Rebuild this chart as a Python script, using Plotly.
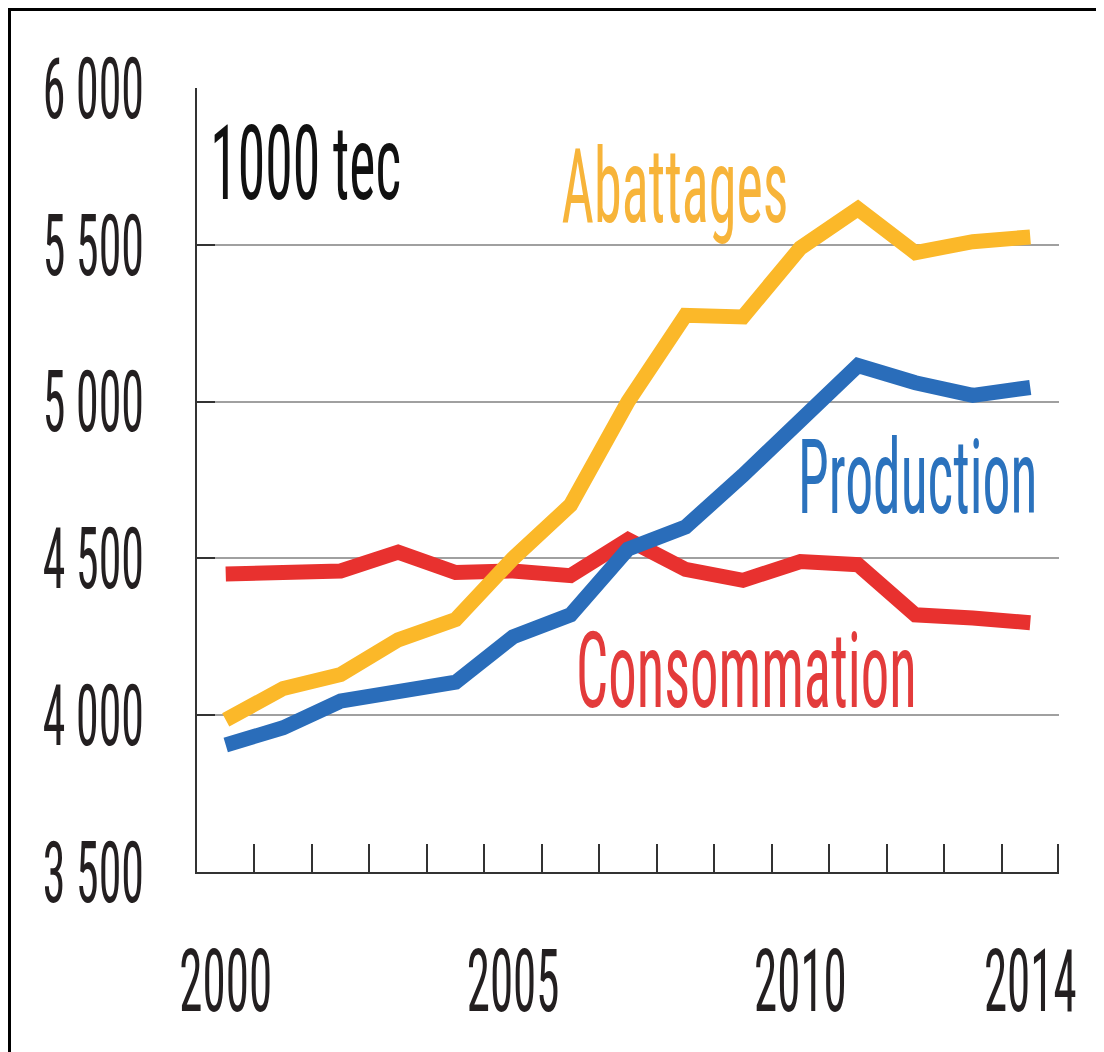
import plotly.graph_objects as go

years = list(range(2000, 2015))
abattages = [3985, 4085, 4130, 4240, 4305, 4500, 4670, 5000, 5275, 5270, 5490, 5615, 5475, 5510, 5525]
production = [3905, 3960, 4045, 4070, 4105, 4250, 4320, 4530, 4600, 4765, 4935, 5115, 5060, 5020, 5045]
consommation = [4450, 4450, 4460, 4520, 4455, 4460, 4445, 4560, 4465, 4430, 4490, 4480, 4320, 4310, 4295]

ytick_vals = [3500, 4000, 4500, 5000, 5500, 6000]
ytick_text = ["3 500", "4 000", "4 500", "5 000", "5 500", "6 000"]
xlabel_vals = [2000, 2005, 2010, 2014]
xlabel_text = ["2000", "2005", "2010", "2014"]
# tick marks sit on the boundaries between years (last one nudged inside the range:
# plotly drops inside ticks that lie within 1 px of the axis end)
xtick_bounds = [y + 0.5 for y in range(1999, 2014)] + [2014.48]

FONT = ("Noto Sans ExtraCondensed, Noto Sans Extra Condensed, Roboto Condensed, "
        "Liberation Sans Narrow, Open Sans Condensed, DejaVu Sans Condensed, sans-serif")
SX = 0.54  # horizontal compression of the lettering (the reference type is very condensed)

OFF = 8  # default page body margin
W, H = 1104 - OFF, 1052 - OFF
PLOT_L, PLOT_R, PLOT_T, PLOT_B = 197, 1059, 88, 872  # page pixel positions of plot area
L, T = PLOT_L - OFF, PLOT_T - OFF
R, B = W - (PLOT_R - OFF), H - (PLOT_B - OFF)
PW, PH = PLOT_R - PLOT_L, PLOT_B - PLOT_T


def px(x):
    return (x - PLOT_L) / PW


def py(y):
    return (PLOT_B - y) / PH


fig = go.Figure()
fig.add_trace(go.Scatter(x=years, y=consommation, mode="lines", name="Consommation",
                         line=dict(color="#E8312F", width=15)))
fig.add_trace(go.Scatter(x=years, y=production, mode="lines", name="Production",
                         line=dict(color="#2A6DBA", width=15)))
fig.add_trace(go.Scatter(x=years, y=abattages, mode="lines", name="Abattages",
                         line=dict(color="#FBB829", width=15)))
fig.add_trace(go.Scatter(x=[2000], y=[3500], mode="markers", marker=dict(opacity=0),
                         showlegend=False, hoverinfo="skip", xaxis="x2", yaxis="y"))

fig.update_layout(
    template="none",
    width=W, height=H,
    margin=dict(l=L, r=R, t=T, b=B, pad=0, autoexpand=False),
    paper_bgcolor="white", plot_bgcolor="white",
    showlegend=False,
    font=dict(family=FONT, color="#231F20"),
    xaxis=dict(range=[1999.5, 2014.5], tickmode="array", tickvals=xtick_bounds,
               showticklabels=False, ticks="inside", ticklen=28, tickwidth=2,
               tickcolor="#333333", showline=True, linecolor="#333333", linewidth=2,
               showgrid=False, zeroline=False, fixedrange=True, automargin=False),
    xaxis2=dict(range=[1999.5, 2014.5], overlaying="x", anchor="y", side="bottom",
                tickmode="array", tickvals=xlabel_vals, ticktext=xlabel_text,
                ticks="", showline=False, showgrid=False, zeroline=False,
                tickfont=dict(size=87, color="#231F20", family=FONT),
                ticklabelstandoff=51, ticklabeloverflow="allow",
                automargin=False, fixedrange=True),
    yaxis=dict(range=[3500, 6000], tickmode="array", tickvals=ytick_vals, ticktext=ytick_text,
               ticks="inside", ticklen=18, tickwidth=2, tickcolor="#333333",
               showline=True, linecolor="#333333", linewidth=2,
               showgrid=True, gridcolor="#A0A0A0", gridwidth=2, zeroline=False,
               tickfont=dict(size=85, color="#231F20", family=FONT),
               ticklabelstandoff=34, ticklabeloverflow="allow",
               fixedrange=True, automargin=False),
)

annots = [
    ("1000 tec", 305, 163, "#111111", 103),
    ("Abattages", 675, 186, "#F7B43A", 104),
    ("Production", 917, 477, "#2B72BD", 103),
    ("Consommation", 746, 671, "#E33B3B", 105),
]
for text, x, y, color, size in annots:
    fig.add_annotation(text=text, x=px(x), y=py(y), xref="paper", yref="paper",
                       xanchor="center", yanchor="middle", showarrow=False,
                       font=dict(size=size, color=color, family=FONT))

# outer frame (partly cropped on the right and bottom in the reference)
fig.add_shape(type="rect", xref="paper", yref="paper",
              x0=px(OFF + 1.5), x1=px(1120), y0=py(1070), y1=py(OFF + 1.5),
              line=dict(color="#000000", width=3), fillcolor="rgba(0,0,0,0)", layer="above")

post_script = (
    "var gd = document.getElementById('{plot_id}');"
    "function sq(sel, s, mode){"
    "  gd.querySelectorAll(sel).forEach(function(el){"
    "    var b = el.getBBox();"
    "    var cx = (mode === 'end') ? (b.x + b.width) : (b.x + b.width / 2);"
    "    var t = el.getAttribute('transform') || '';"
    "    el.setAttribute('transform', t + ' translate(' + cx + ',0) scale(' + s + ',1) translate(' + (-cx) + ',0)');"
    "  });"
    "}"
    "sq('g.ytick text', " + str(SX) + ", 'end');"
    "sq('g.x2tick text', " + str(SX) + ", 'mid');"
    "sq('text.annotation-text', " + str(SX) + ", 'mid');"
)

fig.write_html("out.html", post_script=post_script)
